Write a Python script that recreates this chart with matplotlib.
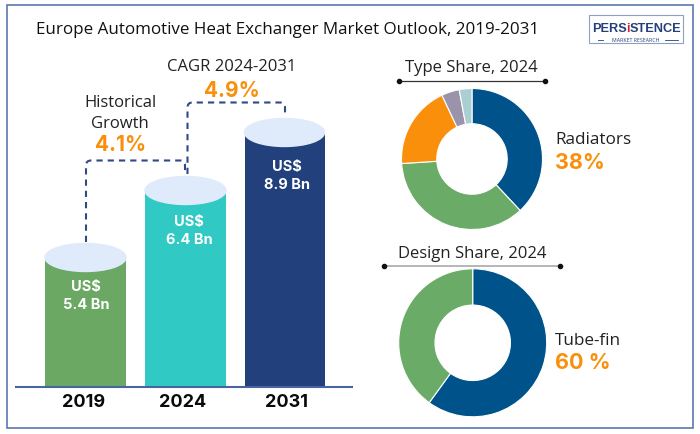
import matplotlib
matplotlib.use("Agg")
import matplotlib.pyplot as plt
from matplotlib.patches import Ellipse, PathPatch, Rectangle
from matplotlib.path import Path

# valores
years = ["2019", "2024", "2031"]
values = [5.4, 6.4, 8.9]
# las barras no son proporcionales en el original, altura leida en pixeles
bar_heights = [129, 196, 254]
bar_colors = ["#6aa863", "#31c9c4", "#21407c"]

type_share = [38, 35.9, 19, 4.1, 2.9]
type_colors = ["#00538a", "#6bab68", "#f98f0a", "#9a93ab", "#a9cfd2"]
design_share = [60, 40]
design_colors = ["#00538a", "#6bab68"]

REG = "Open Sans"
BOLD = "Inter"
ORANGE = "#f98f0a"
NAVY = "#2f4a85"

fig = plt.figure(figsize=(7, 4.35), dpi=100)
ax = fig.add_axes([0, 0, 1, 1])
ax.set_xlim(0, 700)
ax.set_ylim(435, 0)
ax.axis("off")

# marco
ax.add_patch(Rectangle((6.5, 6), 686.5, 423, fill=False, ec="#5b78b0", lw=1.2))

ax.text(36, 30, "Europe Automotive Heat Exchanger Market Outlook, 2019-2031",
        family=REG, fontsize=12.25, color="#111111", va="center")

# barras con tapa eliptica
base = 387.5
centers = [85.5, 185.5, 284.5]
widths = [81, 81, 80]
label_x = [86, 189, 287]
label_off = [29, 31, 34]
ax.bar(centers, bar_heights, width=widths, bottom=[base - h for h in bar_heights],
       color=bar_colors, zorder=2)
for i, h in enumerate(bar_heights):
    top = base - h
    ax.add_patch(Ellipse((centers[i], top), widths[i], 28, color="#dfeafb", zorder=3))
    ax.text(label_x[i], top + label_off[i], "US$", family=BOLD, weight="bold",
            fontsize=10.5, color="white", ha="center", va="center", zorder=4)
    ax.text(label_x[i], top + label_off[i] + 18, f"{values[i]} Bn", family=BOLD, weight="bold",
            fontsize=10.5, color="white", ha="center", va="center", zorder=4)

ax.plot([16, 352], [388, 388], color="#47659f", lw=1.5, zorder=5)
year_x = [84, 183, 287]
for x, y in zip(year_x, years):
    ax.text(x, 402.5, y, family=BOLD, weight="bold", fontsize=13, color="#0a0a0a",
            ha="center", va="center")


def conector(x0, y0, ytop, x1, y1):
    r = 5
    verts = [(x0, y0), (x0, ytop + r), (x0, ytop), (x0 + r, ytop),
             (x1 - r, ytop), (x1, ytop), (x1, ytop + r), (x1, y1)]
    codes = [Path.MOVETO, Path.LINETO, Path.CURVE3, Path.CURVE3,
             Path.LINETO, Path.CURVE3, Path.CURVE3, Path.LINETO]
    ax.add_patch(PathPatch(Path(verts, codes), fill=False, ec=NAVY, lw=1.5,
                           ls=(0, (3, 2.4)), zorder=1))


conector(86, 243, 161.5, 185, 175)
conector(187.5, 175, 103.5, 285, 118)

ax.text(120, 103, "Historical", family=REG, fontsize=12, color="#222222", ha="center", va="center")
ax.text(120, 124, "Growth", family=REG, fontsize=12, color="#222222", ha="center", va="center")
ax.text(120.5, 145, "4.1%", family=BOLD, weight="bold", fontsize=15, color=ORANGE, ha="center", va="center")
ax.text(232, 67, "CAGR 2024-2031", family=REG, fontsize=12, color="#222222", ha="center", va="center")
ax.text(232, 91, "4.9%", family=BOLD, weight="bold", fontsize=15, color=ORANGE, ha="center", va="center")

# titulos de las donas
ax.text(471.5, 68.5, "Type Share, 2024", family=REG, fontsize=12, color="#222222", ha="center", va="center")
ax.plot([399, 545], [82, 82], color="#333333", lw=0.9, zorder=3)
ax.plot([399, 545], [82, 82], "o", color="#111111", ms=3, zorder=3)
ax.text(472, 253.5, "Design Share, 2024", family=REG, fontsize=12, color="#222222", ha="center", va="center")
ax.plot([384, 560], [267, 267], color="#b5b5b5", lw=1.4, zorder=3)
ax.plot([384, 560], [267, 267], "o", color="#111111", ms=3, zorder=3)

ax.text(555, 140, "Radiators", family=REG, fontsize=12.3, color="#222222", va="center")
ax.text(555, 163, "38%", family=BOLD, weight="bold", fontsize=15.5, color=ORANGE, va="center")
ax.text(555, 341.5, "Tube-fin", family=REG, fontsize=12.3, color="#222222", va="center")
ax.text(555, 363, "60 %", family=BOLD, weight="bold", fontsize=15.5, color=ORANGE, va="center")

# logo
ax.add_patch(Rectangle((588.5, 15.5), 94, 28.5, fill=False, ec="#8f9fc4", lw=0.8))
logo = "Liberation Sans"
ax.text(592, 28.5, "PERS", family=logo, fontsize=9.2, weight="bold", color="#24407c", va="center")
ax.text(626.5, 28.5, "i", family=logo, fontsize=9.2, weight="bold", color="#d2232a", va="center")
ax.text(630, 28.5, "STENCE", family=logo, fontsize=9.2, weight="bold", color="#24407c", va="center")
ax.text(635.5, 40.5, "MARKET RESEARCH", family=REG, fontsize=3.8, color="#24407c", ha="center", va="center")
ax.plot([598, 603], [40.5, 40.5], color="#24407c", lw=0.6)
ax.plot([665, 678], [40.5, 40.5], color="#24407c", lw=0.6)


def dona(cx, cy, r, valores, colores, ancho):
    # ejes en pixeles para que el circulo quede donde esta en la referencia
    a = fig.add_axes([(cx - r) / 700, 1 - (cy + r) / 435, 2 * r / 700, 2 * r / 435])
    a.pie(valores, colors=colores, startangle=90, counterclock=False, radius=1,
          wedgeprops=dict(width=ancho, edgecolor="white", linewidth=0.8))
    a.set_xlim(-1, 1)
    a.set_ylim(-1, 1)


dona(472, 160, 70.5, type_share, type_colors, 0.5)
dona(472.7, 343.8, 74, design_share, design_colors, 0.49)

fig.savefig("out.png", dpi=100)
plt.close(fig)
